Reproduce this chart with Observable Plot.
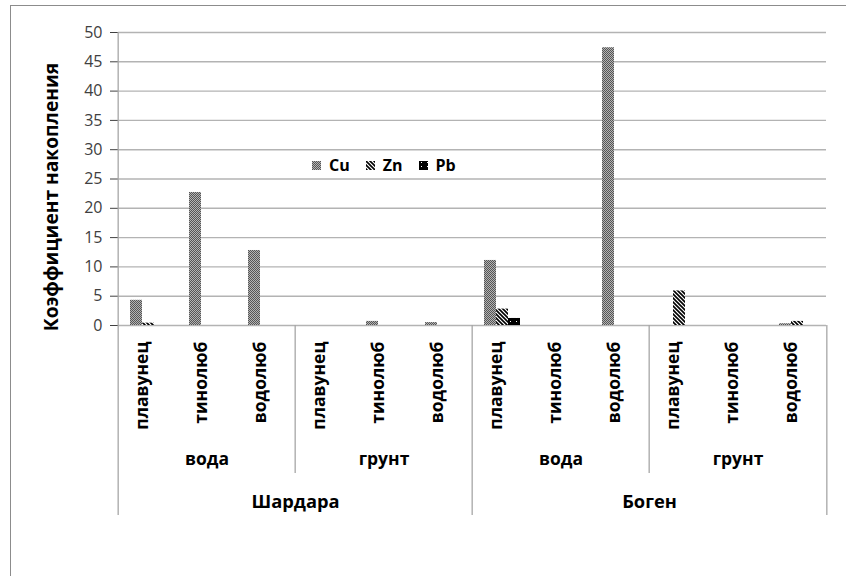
<!DOCTYPE html>
<html><head><meta charset="utf-8">
<script src="https://cdn.jsdelivr.net/npm/d3@7"></script>
<script src="https://cdn.jsdelivr.net/npm/@observablehq/plot@0.6"></script>
<style>
html,body{margin:0;padding:0;background:#fff;overflow:hidden;}
#wrap{position:relative;width:846px;height:576px;font-family:"Open Sans",sans-serif;}
#border{position:absolute;left:10px;top:5px;width:900px;height:700px;border:1.5px solid #8c8c8c;box-sizing:border-box;}
#chart{position:absolute;left:0;top:0;}
#chart g[aria-label="y-axis tick"]{stroke:#a6a6a6;}
#legend{position:absolute;left:312px;top:154px;display:flex;align-items:center;font-weight:bold;font-size:16px;color:#000;}
#legend .item{display:flex;align-items:center;margin-right:16px;}
#legend svg{margin-right:8px;}
</style></head><body>
<svg width="0" height="0" style="position:absolute">
<defs>
<pattern id="pCu" patternUnits="userSpaceOnUse" width="2" height="2">
  <rect width="2" height="2" fill="#b4b4b4"/>
  <rect width="1" height="1" fill="#555"/>
  <rect x="1" y="1" width="1" height="1" fill="#555"/>
</pattern>
<pattern id="pZn" patternUnits="userSpaceOnUse" width="4" height="4">
  <rect width="4" height="4" fill="#fff"/>
  <path d="M-1,-1L5,5M-1,3L1,5M3,-1L5,1" stroke="#000" stroke-width="1.6"/>
</pattern>
<pattern id="pPb" patternUnits="userSpaceOnUse" width="6" height="4">
  <rect width="6" height="4" fill="#000"/>
  <rect x="2" y="1" width="1" height="1" fill="#fff"/>
</pattern>
</defs></svg>
<div id="wrap"><div id="border"></div><div id="chart"></div><div id="legend"></div></div>
<script>
// ---- data ----
const sites = ["Шардара", "Боген"];
const media = ["вода", "грунт"];
const species = ["плавунец", "тинолюб", "водолюб"];
const metals = ["Cu", "Zn", "Pb"];
// order: Шардара-вода(плавунец,тинолюб,водолюб), Шардара-грунт(...), Боген-вода(...), Боген-грунт(...)
const cuValues = [4.3, 22.7, 12.8, 0, 0.7, 0.5, 11.1, 0, 47.4, 0, 0, 0.3];
const znValues = [0.4, 0, 0, 0, 0, 0, 2.8, 0, 0, 5.9, 0, 0.7];
const pbValues = [0, 0, 0, 0, 0, 0, 1.2, 0, 0, 0, 0, 0];
const yTicks = [0, 5, 10, 15, 20, 25, 30, 35, 40, 45, 50];
const yTitle = "Коэффициент накопления";
const patterns = ["url(#pCu)", "url(#pZn)", "url(#pPb)"];

// ---- build tables ----
const cats = [];
for (const s of sites) for (const m of media) for (const sp of species)
  cats.push({key: `${s}|${m}|${sp}`, site: s, medium: m, species: sp});
const keys = cats.map(c => c.key);
const seriesValues = {Cu: cuValues, Zn: znValues, Pb: pbValues};
const bars = [];
cats.forEach((c, i) => metals.forEach(mt => bars.push({key: c.key, metal: mt, value: seriesValues[mt][i]})));

const mediumLabels = [];
const siteLabels = [];
const seps = [];
sites.forEach((s, si) => {
  media.forEach((m, mi) => {
    const group = cats.filter(c => c.site === s && c.medium === m);
    mediumLabels.push({key: group[Math.floor(species.length / 2)].key, text: m});
    seps.push({key: group[0].key, side: -1, level: mi === 0 ? 2 : 1});
  });
  const siteCats = cats.filter(c => c.site === s);
  siteLabels.push({key: siteCats[siteCats.length / 2].key, text: s});
});
seps.push({key: keys[keys.length - 1], side: 1, level: 2});

// ---- layout ----
const W = 846, H = 576, mL = 114, mR = 16, mT = 32, mB = 251;
const half = (W - mL - mR) / keys.length / 2;
const ext = {1: 148, 2: 190};
const font = "'Open Sans', sans-serif";
const lineStyle = {stroke: "#a6a6a6", strokeWidth: 1.3};

const sepMarks = [];
for (const side of [-1, 1]) for (const lv of [1, 2]) {
  const sub = seps.filter(d => d.side === side && d.level === lv);
  if (sub.length) sepMarks.push(Plot.ruleX(sub, {
    fx: "key", x: null, y1: 0, y2: 0, insetBottom: -ext[lv], dx: side * half, ...lineStyle
  }));
}

const chart = Plot.plot({
  width: W, height: H,
  marginLeft: mL, marginRight: mR, marginTop: mT, marginBottom: mB,
  style: {fontFamily: font, fontSize: "16px", color: "#404040", background: "transparent", overflow: "visible"},
  fx: {domain: keys, padding: 0, axis: null},
  x: {type: "band", domain: metals, paddingInner: 0, paddingOuter: 0.8, axis: null},
  y: {domain: [0, 50], ticks: yTicks, tickSize: 8, tickPadding: 8, label: null},
  color: {domain: metals, range: patterns},
  marks: [
    Plot.ruleY(yTicks, {stroke: "#b3b3b3", strokeWidth: 1.4}),
    Plot.barY(bars, {fx: "key", x: "metal", y: "value", fill: "metal"}),
    // value axis line
    Plot.ruleX([keys[0]], {fx: d => d, x: null, y1: 50, y2: 0, dx: -half, ...lineStyle}),
    // category axis separators (extend below the baseline)
    ...sepMarks,
    Plot.text(cats, {fx: "key", text: "species", frameAnchor: "bottom", rotate: -90, textAnchor: "end",
      dy: 16, fontSize: 17.5, fontWeight: "bold", fill: "#000"}),
    Plot.text(mediumLabels, {fx: "key", text: "text", frameAnchor: "bottom", dy: 139,
      fontSize: 17.5, fontWeight: "bold", fill: "#000"}),
    Plot.text(siteLabels, {fx: "key", text: "text", frameAnchor: "bottom-left", textAnchor: "middle",
      dy: 182, fontSize: 18.3, fontWeight: "bold", fill: "#000"}),
    Plot.text([yTitle], {fx: () => keys[0], text: d => d, frameAnchor: "left", textAnchor: "middle", rotate: -90,
      dx: -67, dy: 18, fontSize: 19.2, fontWeight: "bold", fill: "#000"})
  ]
});
document.getElementById("chart").appendChild(chart);

// legend
const lg = d3.select("#legend");
metals.forEach((m, i) => {
  const it = lg.append("div").attr("class", "item");
  it.append("svg").attr("width", 9).attr("height", 9)
    .append("rect").attr("width", 9).attr("height", 9).attr("fill", patterns[i]);
  it.append("span").text(m);
});
</script>
</body></html>
